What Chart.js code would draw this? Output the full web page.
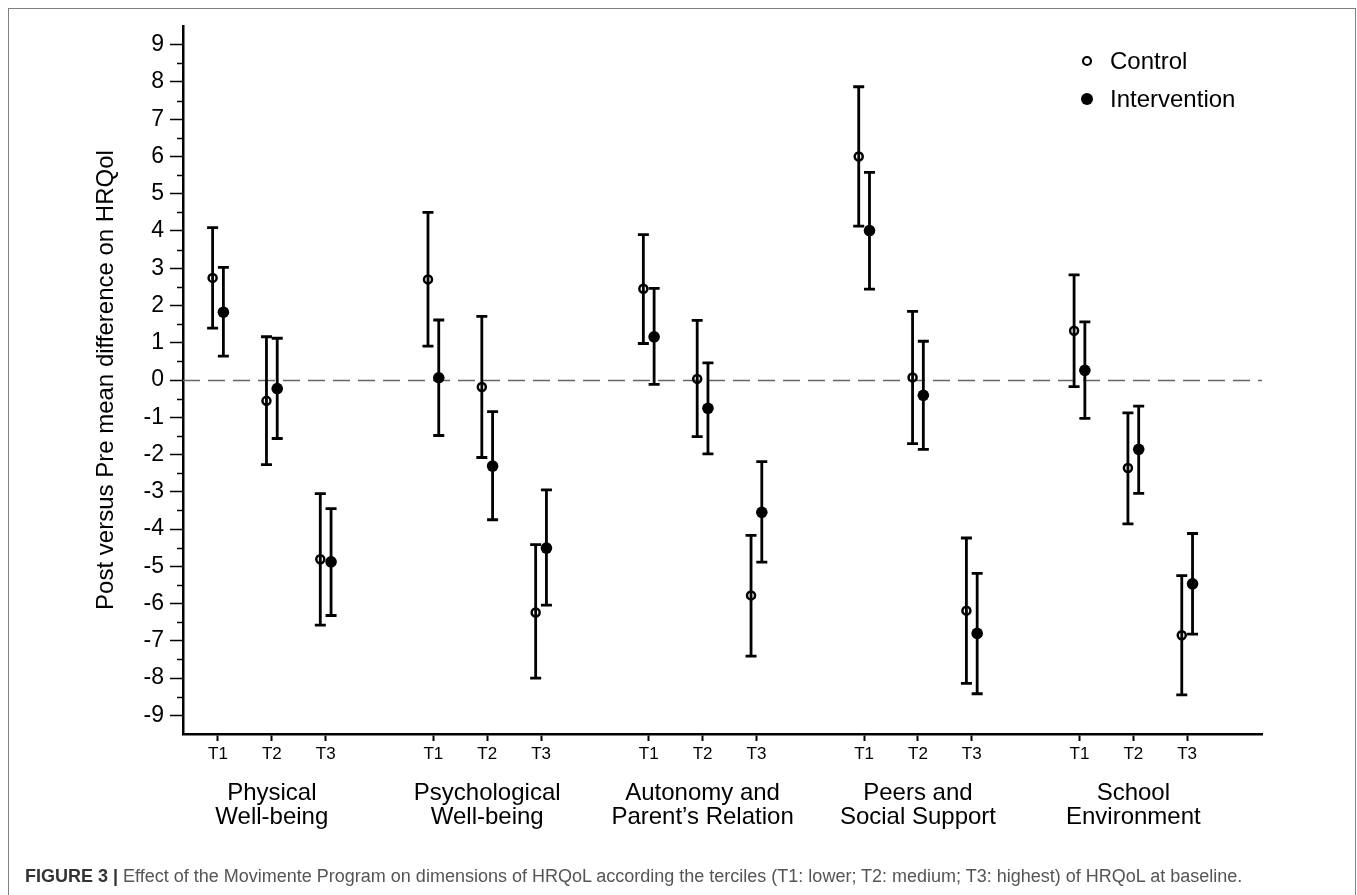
<!DOCTYPE html>
<html>
<head>
<meta charset="utf-8">
<script src="https://cdn.jsdelivr.net/npm/chart.js@4.4.0/dist/chart.umd.min.js"></script>
<style>
    html, body { margin: 0; padding: 0; background: #fff; }
    body { width: 1357px; height: 895px; position: relative; overflow: hidden; font-family: "Liberation Sans", Arial, sans-serif; }
    #frame { position: absolute; left: 8px; top: 8px; width: 1348px; height: 900px; border: 1.5px solid #808080; border-bottom: none; box-sizing: border-box; }
    #wrap { position: absolute; left: 0; top: 0; width: 1357px; height: 895px; }
    #caption { position: absolute; left: 25px; top: 866px; font-size: 18px; color: #555; white-space: nowrap; }
    #caption b { color: #333; }
</style>
</head>
<body>
<div id="frame"></div>
<div id="wrap"><canvas id="chart" width="1357" height="895"></canvas></div>
<div id="caption"><b>FIGURE 3 |</b> Effect of the Movimente Program on dimensions of HRQoL according the terciles (T1: lower; T2: medium; T3: highest) of HRQoL at baseline.</div>
<script>
// dimensions and terciles
const groups = [
    ['Physical', 'Well-being'],
    ['Psychological', 'Well-being'],
    ['Autonomy and', 'Parent\u2019s Relation'],
    ['Peers and', 'Social Support'],
    ['School', 'Environment']
];
const terciles = ['T1', 'T2', 'T3'];

// Control: mean and 95% CI, ordered group by group, T1..T3
const controlMean = [2.74, -0.56, -4.81, 2.70, -0.19, -6.24, 2.45, 0.03, -5.78, 6.00, 0.07, -6.19, 1.32, -2.36, -6.85];
const controlLow = [1.39, -2.27, -6.58, 0.91, -2.08, -8.00, 0.98, -1.52, -7.41, 4.13, -1.71, -8.14, -0.18, -3.86, -8.45];
const controlHigh = [4.09, 1.16, -3.05, 4.50, 1.71, -4.42, 3.90, 1.60, -4.17, 7.87, 1.84, -4.24, 2.82, -0.88, -5.25];

// Intervention
const interventionMean = [1.82, -0.23, -4.88, 0.06, -2.31, -4.51, 1.16, -0.76, -3.55, 4.01, -0.41, -6.80, 0.26, -1.86, -5.47];
const interventionLow = [0.64, -1.57, -6.32, -1.49, -3.75, -6.04, -0.12, -1.98, -4.89, 2.44, -1.86, -8.42, -1.03, -3.04, -6.82];
const interventionHigh = [3.02, 1.12, -3.45, 1.61, -0.85, -2.95, 2.46, 0.46, -2.19, 5.57, 1.04, -5.19, 1.56, -0.70, -4.12];

const FONT = '"Liberation Sans", Arial, sans-serif';

// tercile slot on the x axis: 3 ticks per group, one empty slot between groups
const slot = i => 1 + 4 * Math.floor(i / 3) + (i % 3);
const tickValues = [];
groups.forEach((g, gi) => terciles.forEach((t, ti) => tickValues.push(slot(gi * 3 + ti))));

const errorBars = {
    id: 'errorBars',
    beforeDatasetsDraw(chart) {
        const { ctx, chartArea, scales: { y } } = chart;
        // dashed zero line
        ctx.save();
        ctx.strokeStyle = '#666';
        ctx.lineWidth = 1.5;
        ctx.setLineDash([17, 8]);
        const y0 = Math.round(y.getPixelForValue(0)) + 0.5;
        ctx.beginPath();
        ctx.moveTo(chartArea.left, y0);
        ctx.lineTo(chartArea.right, y0);
        ctx.stroke();
        ctx.restore();

        ctx.save();
        ctx.strokeStyle = '#000';
        ctx.lineWidth = 2.8;
        chart.data.datasets.forEach((ds, di) => {
            chart.getDatasetMeta(di).data.forEach((pt, i) => {
                const top = y.getPixelForValue(ds.errHigh[i]);
                const bot = y.getPixelForValue(ds.errLow[i]);
                ctx.beginPath();
                ctx.moveTo(pt.x, top);
                ctx.lineTo(pt.x, bot);
                ctx.moveTo(pt.x - 5.5, top);
                ctx.lineTo(pt.x + 5.5, top);
                ctx.moveTo(pt.x - 5.5, bot);
                ctx.lineTo(pt.x + 5.5, bot);
                ctx.stroke();
            });
        });
        ctx.restore();
    }
};

const decorations = {
    id: 'decorations',
    afterDraw(chart) {
        const { ctx, scales: { x, y } } = chart;
        ctx.save();
        // minor ticks on the y axis
        ctx.strokeStyle = '#000';
        ctx.lineWidth = 1.5;
        for (let v = -8.5; v <= 8.5; v += 1) {
            const py = Math.round(y.getPixelForValue(v)) + 0.5;
            ctx.beginPath();
            ctx.moveTo(y.right - 6, py);
            ctx.lineTo(y.right, py);
            ctx.stroke();
        }

        // dimension names under the terciles
        ctx.fillStyle = '#000';
        ctx.font = '24px ' + FONT;
        ctx.textAlign = 'center';
        ctx.textBaseline = 'alphabetic';
        groups.forEach((lines, gi) => {
            const cx = x.getPixelForValue(slot(gi * 3 + 1));
            ctx.fillText(lines[0], cx, 800);
            ctx.fillText(lines[1], cx, 824);
        });

        // legend
        const lx = 1087;
        const rows = [61, 99];
        ctx.textAlign = 'left';
        ctx.textBaseline = 'middle';
        chart.data.datasets.forEach((ds, di) => {
            const ly = rows[di];
            ctx.beginPath();
            if (ds.backgroundColor === '#000') {
                ctx.arc(lx, ly, 6, 0, Math.PI * 2);
                ctx.fillStyle = '#000';
                ctx.fill();
            } else {
                ctx.arc(lx, ly, 4, 0, Math.PI * 2);
                ctx.lineWidth = 2.2;
                ctx.strokeStyle = '#000';
                ctx.stroke();
            }
            ctx.fillStyle = '#000';
            ctx.fillText(ds.label, 1110, ly + 1);
        });
        ctx.restore();
    }
};

Chart.defaults.font.family = FONT;
Chart.defaults.color = '#000';

new Chart(document.getElementById('chart'), {
    type: 'scatter',
    data: {
        datasets: [{
            label: 'Control',
            data: controlMean.map((v, i) => ({ x: slot(i) - 0.1, y: v })),
            errLow: controlLow,
            errHigh: controlHigh,
            pointRadius: 4,
            pointBorderWidth: 2.5,
            borderColor: '#000',
            backgroundColor: 'rgba(0,0,0,0)'
        }, {
            label: 'Intervention',
            data: interventionMean.map((v, i) => ({ x: slot(i) + 0.1, y: v })),
            errLow: interventionLow,
            errHigh: interventionHigh,
            pointRadius: 5.8,
            pointBorderWidth: 0,
            borderColor: '#000',
            backgroundColor: '#000'
        }]
    },
    options: {
        responsive: false,
        animation: false,
        layout: { padding: { left: 8, top: 26, right: 95, bottom: 0 } },
        plugins: {
            legend: { display: false },
            tooltip: { enabled: false }
        },
        scales: {
            x: {
                type: 'linear',
                min: 0.35,
                max: 20.39,
                afterBuildTicks(scale) {
                    scale.ticks = tickValues.map(v => ({ value: v }));
                },
                afterFit(scale) {
                    scale.height = 161;
                    scale.paddingLeft = 0;
                    scale.paddingRight = 0;
                },
                ticks: {
                    autoSkip: false,
                    maxRotation: 0,
                    minRotation: 0,
                    padding: 3,
                    font: { size: 17 },
                    callback: v => terciles[(v - 1) % 4]
                },
                grid: {
                    drawOnChartArea: false,
                    tickLength: 7,
                    tickWidth: 2,
                    tickColor: '#000'
                },
                border: { display: true, color: '#000', width: 2.5 }
            },
            y: {
                min: -9.5,
                max: 9.5,
                afterFit(scale) {
                    scale.width = 175;
                    scale.paddingTop = 0;
                    scale.paddingBottom = 0;
                },
                ticks: {
                    stepSize: 0.5,
                    autoSkip: false,
                    padding: 6,
                    font: { size: 23 },
                    callback: v => Number.isInteger(v) ? String(v) : ''
                },
                grid: {
                    drawOnChartArea: false,
                    tickLength: 13,
                    tickWidth: 1.5,
                    tickColor: c => Number.isInteger(c.tick.value) ? '#000' : 'rgba(0,0,0,0)'
                },
                border: { display: true, color: '#000', width: 2.5 },
                title: {
                    display: true,
                    text: 'Post versus Pre mean difference on HRQol',
                    font: { size: 24 },
                    padding: { top: 84, bottom: 0 }
                }
            }
        }
    },
    plugins: [errorBars, decorations]
});
</script>
</body>
</html>
